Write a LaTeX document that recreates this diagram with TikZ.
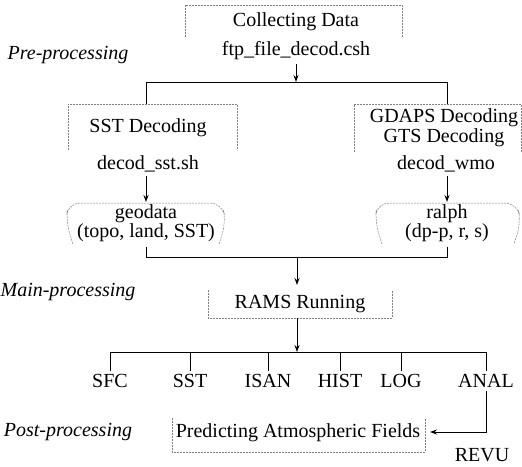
\documentclass[tikz,border=0pt]{standalone}
\usepackage{fontspec}
\setmainfont{Liberation Serif}
\usetikzlibrary{arrows.meta}
\begin{document}
\begin{tikzpicture}[x=1pt, y=-1pt, font=\fontsize{20}{22}\selectfont,
    phase/.style = {font=\fontsize{20}{22}\selectfont\itshape},
    frame/.style = {draw=gray, line width=0.5pt, dash pattern=on 2pt off 1pt},
    conn/.style = {line width=1pt},
    arr/.style = {conn, -{Stealth[length=7pt,width=5pt]}}]
    \useasboundingbox (0,0) rectangle (522,466);
    \node[phase] (pre) at (68,55) {Pre-processing};
    \node[phase] (main) at (68,292) {Main-processing};
    \node[phase] (post) at (68,432) {Post-processing};
    \node (collect) at (296,22) {Collecting Data};
    \node (ftp) at (296,51) {ftp\_file\_decod.csh};
    \node (sst) at (148,128) {SST Decoding};
    \node (decsst) at (148,164) {decod\_sst.sh};
    \node (gdaps) at (444,118) {GDAPS Decoding};
    \node (gts) at (444,138) {GTS Decoding};
    \node (decwmo) at (446,164) {decod\_wmo};
    \node (geo) at (146,214) {geodata};
    \node (geoinfo) at (146,233) {(topo, land, SST)};
    \node (ralph) at (447,214) {ralph};
    \node (ralphinfo) at (447,233) {(dp-p, r, s)};
    \node (rams) at (300,304) {RAMS Running};
    \node (sfc) at (110,381) {SFC};
    \node (sstout) at (190,381) {SST};
    \node (isan) at (268,381) {ISAN};
    \node (hist) at (340,381) {HIST};
    \node (log) at (401,381) {LOG};
    \node (anal) at (486,381) {ANAL};
    \node (pred) at (298,433) {Predicting Atmospheric Fields};
    \node (revu) at (482,455) {REVU};
    \draw[frame] (185,37) -- (185,5) -- (402,5) -- (402,37);
    \draw[frame] (68,150) -- (68,104) -- (237,104) -- (237,150);
    \draw[frame] (354,152) -- (354,104) -- (521,104) -- (521,152);
    \draw[frame, rounded corners=12pt] (73,244) -- (66,222) -- (68,203) -- (222,203) -- (226,222) -- (219,244);
    \draw[frame, rounded corners=12pt] (382,244) -- (375,222) -- (377,203) -- (517,203) -- (521,222) -- (514,244);
    \draw[frame] (208,290) -- (208,318) -- (392,318) -- (392,290);
    \draw[frame] (172,418) -- (172,452) -- (425,452) -- (425,418);
    \coordinate (split) at (296,82);
    \coordinate (sstin) at (146,104);
    \coordinate (wmoin) at (447,104);
    \coordinate (geotop) at (146,202);
    \coordinate (ralphtop) at (447,202);
    \coordinate (geobot) at (146,247);
    \coordinate (ralphbot) at (447,247);
    \coordinate (merge) at (297,257);
    \coordinate (ramstop) at (297,285);
    \coordinate (ramsbot) at (297,318);
    \coordinate (fan) at (297,352);
    \coordinate (predin) at (430,432);
    \draw[arr] (ftp) -- (split);
    \draw[conn] (sstin) -- (sstin |- split) -- (wmoin |- split) -- (wmoin);
    \draw[arr] (geotop |- decsst.south) -- (geotop);
    \draw[arr] (ralphtop |- decwmo.south) -- (ralphtop);
    \draw[conn] (geobot) -- (geobot |- merge) -- (ralphbot |- merge) -- (ralphbot);
    \draw[arr] (merge) -- (ramstop);
    \draw[arr] (ramsbot) -- (fan);
    \draw[conn] (sfc |- fan) -- (anal |- fan);
    \foreach \n in {sfc,sstout,isan,hist,log,anal}
        \draw[conn] (\n |- fan) -- (\n.north);
    \draw[arr] (anal) |- (predin);
\end{tikzpicture}
\end{document}
